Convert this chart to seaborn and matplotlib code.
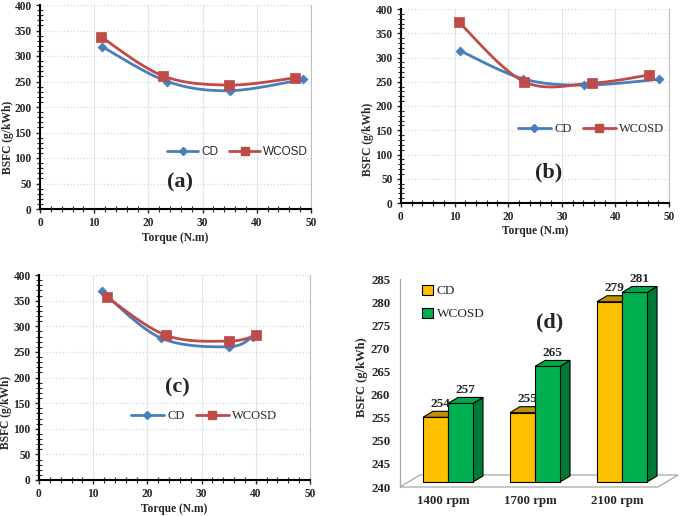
import numpy as np
import pandas as pd
import matplotlib
matplotlib.use("Agg")
import matplotlib.pyplot as plt
import seaborn as sns
from matplotlib.lines import Line2D
from matplotlib.patches import Polygon, Patch
from matplotlib.ticker import MultipleLocator

sns.set_style("white")
plt.rcParams['font.family'] = ['Liberation Serif', 'DejaVu Serif']

# panel (a)
a_cd_torque = [11.5, 23.5, 35.0, 48.5]
a_cd_bsfc = [318, 250, 232, 254]
a_wc_torque = [11.2, 22.7, 34.8, 47.0]
a_wc_bsfc = [338, 261, 243, 257]

# panel (b)
b_cd_torque = [11.0, 22.8, 34.2, 48.2]
b_cd_bsfc = [314, 256, 243, 255]
b_wc_torque = [10.8, 23.0, 35.6, 46.3]
b_wc_bsfc = [373, 250, 247, 264]

# panel (c)
c_cd_torque = [11.6, 22.5, 35.0, 39.5]
c_cd_bsfc = [368, 277, 260, 280]
c_wc_torque = [12.5, 23.5, 35.0, 40.0]
c_wc_bsfc = [357, 282, 271, 282]

# panel (d)
rpm_labels = ['1400 rpm', '1700 rpm', '2100 rpm']
d_cd = [254, 255, 279]
d_wc = [257, 265, 281]

BLUE = '#4A7EBB'
RED = '#BE4B48'
YELLOW = '#FFC000'
GREEN = '#00B050'

W, H = 685, 516


def smooth(xs, ys, n=40):
    """Excel-like smoothed line (cubic Bezier through the points)."""
    p = np.column_stack([xs, ys]).astype(float)
    out = [p[0]]
    for i in range(len(p) - 1):
        p0 = p[i - 1] if i > 0 else p[i]
        p1, p2 = p[i], p[i + 1]
        p3 = p[i + 2] if i + 2 < len(p) else p[i + 1]
        c1 = p1 + (p2 - p0) / 6
        c2 = p2 - (p3 - p1) / 6
        t = np.linspace(0, 1, n)[1:, None]
        seg = (1 - t) ** 3 * p1 + 3 * (1 - t) ** 2 * t * c1 + 3 * (1 - t) * t ** 2 * c2 + t ** 3 * p2
        out.extend(seg)
    out = np.array(out)
    return out[:, 0], out[:, 1]


def px_axes(fig, left, top, right, bottom):
    return fig.add_axes([left / W, 1 - bottom / H, (right - left) / W, (bottom - top) / H])


def line_panel(ax, cd_x, cd_y, wc_x, wc_y, letter, letter_pos, leg_pos, leg_font, ylab_pos):
    ax.xaxis.grid(True, color='#DCE6F2', lw=0.8)
    ax.yaxis.grid(True, color='#C5D3E8', ls=(0, (1, 2)), lw=0.8)
    for xs, ys, col, mk, s in [(cd_x, cd_y, BLUE, 'D', 22), (wc_x, wc_y, RED, 's', 45)]:
        sx, sy = smooth(xs, ys)
        sns.lineplot(x=sx, y=sy, sort=False, estimator=None, color=col, lw=2, ax=ax)
        sns.scatterplot(x=xs, y=ys, marker=mk, s=s, color=col, edgecolor=col, ax=ax, zorder=3)
    ax.set_xlim(0, 50)
    ax.set_ylim(0, 400)
    ax.xaxis.set_major_locator(MultipleLocator(10))
    ax.xaxis.set_minor_locator(MultipleLocator(2))
    ax.yaxis.set_major_locator(MultipleLocator(50))
    ax.yaxis.set_minor_locator(MultipleLocator(10))
    ax.tick_params(which='major', direction='out', length=3, width=1, labelsize=8.3, pad=3)
    ax.tick_params(which='minor', direction='inout', length=4, width=0.8)
    ax.tick_params(which='both', bottom=True, left=True)
    for lab in ax.get_xticklabels() + ax.get_yticklabels():
        lab.set_fontweight('bold')
    for s in ['left', 'bottom']:
        ax.spines[s].set_color('black')
        ax.spines[s].set_linewidth(1.5)
    ax.spines['right'].set_color('#BFBFBF')
    ax.spines['right'].set_linewidth(0.8)
    ax.spines['top'].set_visible(False)
    ax.set_xlabel('Torque (N.m)', fontsize=8.3, fontweight='bold')
    ax.xaxis.set_label_coords(0.5, -0.112)
    ax.set_ylabel('BSFC (g/kWh)', fontsize=8.3, fontweight='bold')
    ax.yaxis.set_label_coords(*ylab_pos)
    handles = [Line2D([], [], color=BLUE, lw=2, marker='D', ms=4),
               Line2D([], [], color=RED, lw=2, marker='s', ms=6)]
    ax.legend(handles, ['CD', 'WCOSD'], ncol=2, frameon=False, loc='center',
              bbox_to_anchor=leg_pos, handlelength=2.6, columnspacing=0.9,
              handletextpad=0.3, prop=leg_font)
    ax.text(letter_pos[0], letter_pos[1], letter, transform=ax.transAxes,
            ha='center', va='center', fontsize=16, fontweight='bold')


fig = plt.figure(figsize=(W / 100, H / 100), dpi=100)

ax_a = px_axes(fig, 40, 5, 311, 209)
line_panel(ax_a, a_cd_torque, a_cd_bsfc, a_wc_torque, a_wc_bsfc, '(a)', (0.517, 0.13),
           (0.73, 0.28), {'family': 'Liberation Sans', 'size': 8.5}, (-0.097, 0.35))

ax_b = px_axes(fig, 401, 9, 669, 203)
line_panel(ax_b, b_cd_torque, b_cd_bsfc, b_wc_torque, b_wc_bsfc, '(b)', (0.55, 0.155),
           (0.71, 0.38), {'family': 'Liberation Serif', 'size': 9}, (-0.10, 0.33))

ax_c = px_axes(fig, 39, 275, 310, 480)
line_panel(ax_c, c_cd_torque, c_cd_bsfc, c_wc_torque, c_wc_bsfc, '(c)', (0.51, 0.45),
           (0.61, 0.31), {'family': 'Liberation Serif', 'size': 9}, (-0.10, 0.33))

# panel (d): pseudo-3D bars
left_px, right_px, top_px, bot_px = 400, 658, 279, 487
ax_d = px_axes(fig, left_px, top_px, right_px, bot_px)
df = pd.DataFrame({'rpm': rpm_labels * 2,
                   'fuel': ['CD'] * 3 + ['WCOSD'] * 3,
                   'bsfc': d_cd + d_wc})
sns.barplot(data=df, x='rpm', y='bsfc', hue='fuel', palette=[YELLOW, GREEN],
            width=0.575, edgecolor='black', linewidth=0.8, legend=False, ax=ax_d,
            saturation=1, zorder=3)
xlo, xhi, ylo, yhi = -0.494, 2.471, 240, 285
ax_d.set_xlim(xlo, xhi)
ax_d.set_ylim(ylo, yhi)
ppx = (right_px - left_px) / (xhi - xlo)
ppy = (bot_px - top_px) / (yhi - ylo)


def dxy(px, py):
    return px / ppx, py / ppy


bars = list(ax_d.patches)

# floor
fdx, fdy = dxy(20, 12)
ax_d.add_patch(Polygon([(xlo, ylo), (xhi, ylo), (xhi + fdx, ylo + fdy), (xlo + fdx, ylo + fdy)],
                       closed=True, facecolor='white', edgecolor='#A6A6A6', lw=0.9,
                       clip_on=False, zorder=1))

bx, by = dxy(5, 5)
ddx, ddy = dxy(10, 6)
top_cols = {YELLOW: '#C09000', GREEN: '#00A84A'}
side_cols = {YELLOW: '#C09000', GREEN: '#007A37'}
values = d_cd + d_wc
for i, (p, v) in enumerate(zip(bars, values)):
    col = YELLOW if i < 3 else GREEN
    zo = 3 + i // 3 * 2
    x0 = p.get_x() + bx
    w = p.get_width()
    p.set_x(x0)
    p.set_y(ylo + by)
    p.set_height(v - ylo)
    p.set_zorder(zo)
    top = v + by
    ax_d.add_patch(Polygon([(x0, top), (x0 + w, top), (x0 + w + ddx, top + ddy), (x0 + ddx, top + ddy)],
                           closed=True, facecolor=top_cols[col], edgecolor='black', lw=0.8,
                           clip_on=False, zorder=zo))
    ax_d.add_patch(Polygon([(x0 + w, ylo + by), (x0 + w + ddx, ylo + by + ddy),
                            (x0 + w + ddx, top + ddy), (x0 + w, top)],
                           closed=True, facecolor=side_cols[col], edgecolor='black', lw=0.8,
                           clip_on=False, zorder=zo - 0.5))
    ax_d.text(x0 + w / 2 + ddx / 2, top + ddy + 0.3, str(v), ha='center', va='bottom',
              fontsize=9.5, fontweight='bold', clip_on=False, zorder=10)

for s in ['top', 'right', 'bottom']:
    ax_d.spines[s].set_visible(False)
ax_d.spines['left'].set_color('#A6A6A6')
ax_d.spines['left'].set_linewidth(0.9)
ax_d.yaxis.set_major_locator(MultipleLocator(5))
ax_d.tick_params(axis='y', length=0, pad=7, labelsize=9.3)
ax_d.tick_params(axis='x', length=0, pad=6, labelsize=9.3)
for lab in ax_d.get_xticklabels() + ax_d.get_yticklabels():
    lab.set_fontweight('bold')
ax_d.set_xlabel('')
ax_d.set_ylabel('BSFC (g/kWh)', fontsize=9, fontweight='bold')
ax_d.yaxis.set_label_coords(-0.124, 0.53)
ax_d.legend([Patch(facecolor=YELLOW, edgecolor='black', lw=0.8),
             Patch(facecolor=GREEN, edgecolor='black', lw=0.8)],
            ['CD', 'WCOSD'], loc='upper left', bbox_to_anchor=(0.04, 1.03),
            frameon=False, handlelength=0.8, handleheight=0.8, handletextpad=0.3,
            labelspacing=0.8, prop={'family': 'Liberation Serif', 'size': 9.5})
ax_d.text(0.58, 0.79, '(d)', transform=ax_d.transAxes, ha='center', va='center',
          fontsize=16, fontweight='bold')

fig.savefig('out.png', dpi=100)
